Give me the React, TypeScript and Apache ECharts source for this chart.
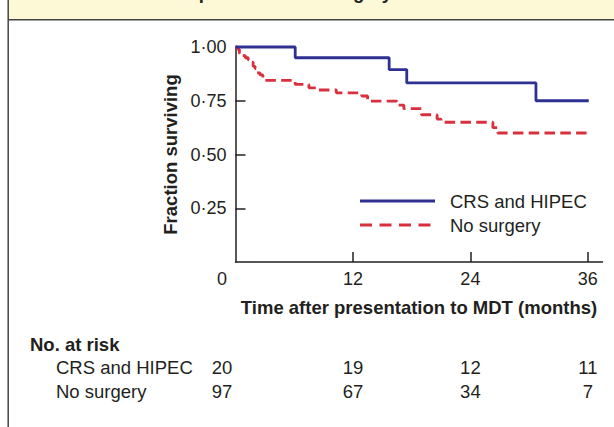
import React, { useEffect, useRef } from "react";
import * as echarts from "echarts";

// ---- data ----
const seriesNames = ["CRS and HIPEC", "No surgery"];
const crsTimes = [0, 6.1, 15.7, 17.5, 30.7, 36.1];
const crsSurvival = [1, 0.95, 0.895, 0.833, 0.75, 0.75];
const noSurgeryTimes = [0, 0.15, 0.4, 0.7, 1.0, 1.3, 1.6, 1.8, 2.0, 2.2, 2.5, 2.8, 6.1, 7.5, 8.3, 10.3, 12.9, 13.5, 16.5, 17.2, 19.0, 20.6, 21.0, 26.3, 26.8, 36.2];
const noSurgerySurvival = [1, 0.99, 0.97, 0.96, 0.95, 0.94, 0.93, 0.91, 0.9, 0.88, 0.87, 0.845, 0.826, 0.81, 0.8, 0.787, 0.772, 0.748, 0.73, 0.713, 0.685, 0.665, 0.65, 0.625, 0.6, 0.6];
const xTicks = [12, 24, 36];
const yTicks = [0.25, 0.5, 0.75, 1];
const riskTimes = [0, 12, 24, 36];
const riskCrs = [20, 19, 12, 11];
const riskNoSurgery = [97, 67, 34, 7];
const riskTitle = "No. at risk";
const headerText = "Overall survival of patients treated with CRS and HIPEC compared with no surgery";
const xName = "Time after presentation to MDT (months)";
const yName = "Fraction surviving";

const FONT = '"Liberation Sans", Arial, Helvetica, sans-serif';
const INK = "#231f20";
const BLUE = "#2e3192";
const RED = "#d9303e";

const zip = (xs: number[], ys: number[]) => xs.map((x, i) => [x, ys[i]]);

export default function App() {
  const ref = useRef<HTMLDivElement>(null);
  useEffect(() => {
    if (!ref.current) return;
    const chart = echarts.init(ref.current, null, { renderer: "svg" });
    const axisLineStyle = { color: INK, width: 1.5 };
    chart.setOption({
      animation: false,
      grid: { left: 235.5, right: 11.5, top: 47, bottom: 165 },
      xAxis: {
        type: "value",
        min: 0,
        max: 37.5,
        interval: 12,
        axisLine: { show: true, lineStyle: axisLineStyle },
        axisTick: { show: true, inside: true, length: 10, customValues: xTicks, lineStyle: axisLineStyle },
        axisLabel: { customValues: xTicks, margin: 8, fontSize: 18, color: INK, fontFamily: FONT },
        splitLine: { show: false },
        name: xName,
        nameLocation: "middle",
        nameGap: 36,
        nameTextStyle: { fontSize: 18.5, fontWeight: "bold", color: INK, fontFamily: FONT },
      },
      yAxis: {
        type: "value",
        min: 0,
        max: 1,
        interval: 0.25,
        axisLine: { show: true, lineStyle: axisLineStyle },
        axisTick: { show: true, inside: true, length: 10, customValues: yTicks, lineStyle: axisLineStyle },
        axisLabel: {
          customValues: yTicks,
          margin: 9,
          fontSize: 18,
          color: INK,
          fontFamily: FONT,
          formatter: (v: number) => v.toFixed(2).replace(".", "·"),
        },
        splitLine: { show: false },
        name: yName,
        nameLocation: "middle",
        nameGap: 56,
        nameTextStyle: { fontSize: 18.5, fontWeight: "bold", color: INK, fontFamily: FONT },
      },
      series: [
        {
          name: seriesNames[0],
          type: "line",
          step: "end",
          symbol: "none",
          clip: false,
          silent: true,
          itemStyle: { color: BLUE },
          lineStyle: { color: BLUE, width: 2.8, type: "solid" },
          data: zip(crsTimes, crsSurvival),
          z: 3,
        },
        {
          name: seriesNames[1],
          type: "line",
          step: "end",
          symbol: "none",
          clip: false,
          silent: true,
          itemStyle: { color: RED },
          lineStyle: { color: RED, width: 2.8, type: [10.5, 5.3] },
          data: zip(noSurgeryTimes, noSurgerySurvival),
          z: 2,
        },
      ],
    });

    const colX = riskTimes.map((t) => {
      const px = chart.convertToPixel({ xAxisIndex: 0 }, t) as number;
      return t === 0 ? px - 13.5 : px;
    });
    const x0 = (chart.convertToPixel({ xAxisIndex: 0 }, 0) as number) - 13.5;
    const y0 = chart.convertToPixel({ yAxisIndex: 0 }, 0) as number;

    const txt = (text: string, x: number, y: number, align: string, bold = false, size = 18.5) => ({
      type: "text",
      x,
      y,
      silent: true,
      style: {
        text,
        font: `${bold ? "bold " : ""}${size}px ${FONT}`,
        fill: INK,
        align,
        textAlign: align,
        verticalAlign: "middle",
        textVerticalAlign: "middle",
      },
    });

    const legendRows = [
      { y: 201, color: BLUE, dash: null as number[] | null },
      { y: 225, color: RED, dash: [12, 7.5] },
    ];

    const graphics: any[] = [
      { type: "rect", shape: { x: 8, y: 0, width: 606, height: 19.5 }, style: { fill: "#fdf8d6" }, silent: true, z: 0 },
      txt(headerText, 392, -7.4, "right", true),
      { type: "line", shape: { x1: 8, y1: 19.8, x2: 614, y2: 19.8 }, style: { stroke: "#444", lineWidth: 1.5 }, silent: true },
      { type: "line", shape: { x1: 8.2, y1: 0, x2: 8.2, y2: 427 }, style: { stroke: "#444", lineWidth: 1.5 }, silent: true },
      txt("0", x0, y0 + 16.5, "center", false, 18),
      txt(riskTitle, 30, 344, "left", true),
      txt(seriesNames[0], 56, 367.5, "left"),
      txt(seriesNames[1], 56, 391, "left"),
    ];
    legendRows.forEach((r, i) => {
      graphics.push({
        type: "line",
        silent: true,
        shape: { x1: 360, y1: r.y, x2: 435, y2: r.y },
        style: { stroke: r.color, lineWidth: 2.8, lineDash: r.dash || undefined },
      });
      graphics.push(txt(seriesNames[i], 450, r.y, "left"));
    });
    riskCrs.forEach((n, i) => graphics.push(txt(String(n), colX[i], 367.5, "center")));
    riskNoSurgery.forEach((n, i) => graphics.push(txt(String(n), colX[i], 391, "center")));
    chart.setOption({ graphic: graphics });

    return () => chart.dispose();
  }, []);
  return (
    <div
      ref={ref}
      style={{ position: "fixed", left: 0, top: 0, width: 614, height: 427, background: "#fff" }}
    />
  );
}
